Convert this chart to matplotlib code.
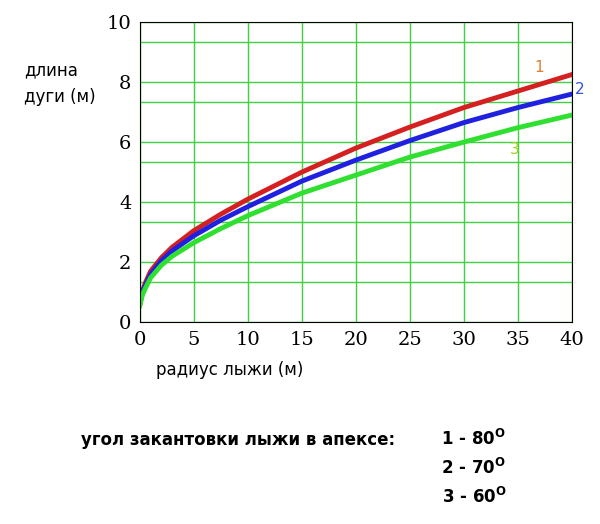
import matplotlib
matplotlib.use("Agg")
import matplotlib.pyplot as plt

radius = [0, 0.25, 0.5, 1, 2, 3, 5, 7.5, 10, 15, 20, 25, 30, 35, 40]
arc_80 = [0.6, 1.05, 1.3, 1.7, 2.15, 2.5, 3.05, 3.6, 4.1, 5.0, 5.8, 6.5, 7.15, 7.7, 8.25]
arc_70 = [0.6, 1.0, 1.22, 1.6, 2.05, 2.38, 2.88, 3.4, 3.85, 4.7, 5.4, 6.05, 6.65, 7.15, 7.6]
arc_60 = [0.55, 0.92, 1.12, 1.48, 1.9, 2.2, 2.65, 3.12, 3.55, 4.3, 4.9, 5.5, 6.0, 6.48, 6.9]

fig = plt.figure(figsize=(6, 5.24), dpi=100)
ax = fig.add_axes([0.233, 0.385, 0.72, 0.573])
ax.plot(radius, arc_80, color="#d42020", lw=3.5)
ax.plot(radius, arc_70, color="#2020e0", lw=3.5)
ax.plot(radius, arc_60, color="#30e030", lw=3.5)
ax.set_xlim(0, 40)
ax.set_ylim(0, 10)
ax.set_xticks(range(0, 41, 5))
ax.set_yticks(range(0, 11, 2))
ax.set_xticks(range(0, 41, 5), minor=False)
for y in range(1, 10, 1):
    pass
ax.set_yticks([0, 1.3333, 2, 3.3333, 4, 5.3333, 6, 7.3333, 8, 9.3333, 10], minor=True)
ax.grid(True, which="major", axis="both", color="#40d040", lw=1)
ax.grid(True, which="minor", axis="y", color="#40d040", lw=1)
ax.tick_params(which="minor", length=0)
ax.tick_params(length=0, labelsize=14, pad=6)
for lbl in ax.get_xticklabels() + ax.get_yticklabels():
    lbl.set_fontfamily("DejaVu Serif")
ax.text(36.5, 8.35, "1", color="#e08030", fontsize=11)
ax.text(40.3, 7.6, "2", color="#3050e0", fontsize=11)
ax.text(34.3, 5.6, "3", color="#a0d020", fontsize=11)
fig.text(0.04, 0.84, "длина\nдуги (м)", fontsize=12, va="center", linespacing=1.6)
fig.text(0.26, 0.285, "радиус лыжи (м)", fontsize=12)
fig.text(0.135, 0.15, "угол закантовки лыжи в апексе:", fontsize=12, fontweight="bold")
fig.text(0.735, 0.15, "1 - 80$^\\mathregular{O}$", fontsize=12, fontweight="bold")
fig.text(0.735, 0.095, "2 - 70$^\\mathregular{O}$", fontsize=12, fontweight="bold")
fig.text(0.737, 0.04, "3 - 60$^\\mathregular{O}$", fontsize=12, fontweight="bold")
fig.savefig("out.png")
